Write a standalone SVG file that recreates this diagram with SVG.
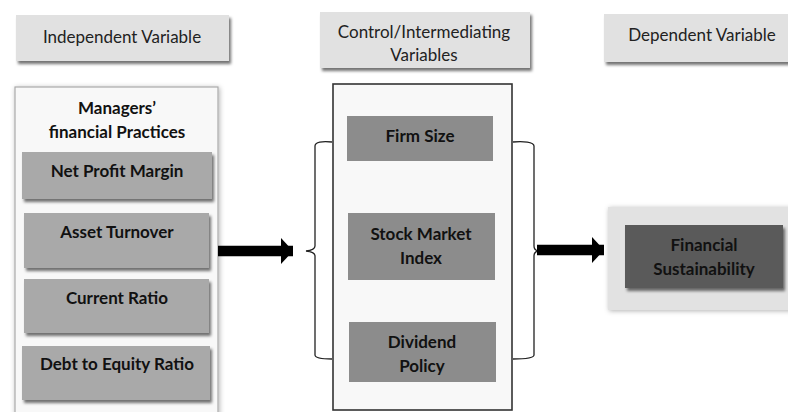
<svg xmlns="http://www.w3.org/2000/svg" width="788" height="412" viewBox="0 0 788 412">
<defs>
<filter id="sh" x="-10%" y="-20%" width="130%" height="150%">
<feDropShadow dx="2" dy="3" stdDeviation="1.6" flood-color="#000" flood-opacity="0.55"/>
</filter>
<filter id="glow" x="-10%" y="-10%" width="120%" height="120%">
<feDropShadow dx="1" dy="1" stdDeviation="2.5" flood-color="#000" flood-opacity="0.3"/>
</filter>
<marker id="ah" viewBox="0 0 12 26" refX="12" refY="13" markerWidth="12" markerHeight="26" markerUnits="userSpaceOnUse" orient="auto">
<path d="M0,0 L12,13 L0,26 Z" fill="#000"/>
</marker>
</defs>
<style>
text{font-family:Lato,"Open Sans","Liberation Sans",sans-serif;fill:#111;text-anchor:middle}
.h{font-size:17px;font-weight:400;fill:#222}
.b{font-size:17px;font-weight:700}
.hdr{fill:#e1e1e1;filter:url(#sh)}
.item{fill:#a9a9a9;filter:url(#sh)}
.mid{fill:#8c8c8c}
.conn{fill:none;stroke:#000;stroke-width:10.5}
.br{fill:none;stroke:#222;stroke-width:1.3}
</style>
<rect width="788" height="412" fill="#fff"/>

<g id="hdr-independent">
<rect class="hdr" x="16" y="15" width="213" height="46"/>
<text class="h" x="122" y="43">Independent Variable</text>
</g>
<g id="hdr-control">
<rect class="hdr" x="320" y="12" width="210" height="56"/>
<text class="h" x="424" y="38">Control/Intermediating</text>
<text class="h" x="424" y="61">Variables</text>
</g>
<g id="hdr-dependent">
<rect class="hdr" x="604" y="14" width="190" height="48"/>
<text class="h" x="702" y="41">Dependent Variable</text>
</g>

<g id="managers">
<rect x="15" y="87" width="203" height="340" fill="#f8f8f8" stroke="#aaa" stroke-width="1.2" filter="url(#glow)"/>
<text class="b" x="117" y="114">Managers’</text>
<text class="b" x="117" y="138">financial Practices</text>
</g>
<g id="net-profit-margin">
<rect class="item" x="22" y="152" width="190" height="47"/>
<text class="b" x="117" y="177">Net Profit Margin</text>
</g>
<g id="asset-turnover">
<rect class="item" x="24" y="213" width="185" height="55"/>
<text class="b" x="117" y="238">Asset Turnover</text>
</g>
<g id="current-ratio">
<rect class="item" x="24" y="279" width="185" height="54"/>
<text class="b" x="117" y="304">Current Ratio</text>
</g>
<g id="debt-equity">
<rect class="item" x="22" y="346" width="188" height="54"/>
<text class="b" x="117" y="370">Debt to Equity Ratio</text>
</g>

<g id="control-box">
<rect x="333" y="84" width="179" height="326" fill="#f8f8f8" stroke="#333" stroke-width="1.6"/>
</g>
<g id="firm-size">
<rect class="mid" x="347" y="116" width="146" height="45"/>
<text class="b" x="420" y="142">Firm Size</text>
</g>
<g id="stock-market-index">
<rect class="mid" x="348" y="213" width="147" height="67"/>
<text class="b" x="421" y="240">Stock Market</text>
<text class="b" x="421" y="264">Index</text>
</g>
<g id="dividend-policy">
<rect class="mid" x="349" y="322" width="147" height="60"/>
<text class="b" x="422" y="348">Dividend</text>
<text class="b" x="422" y="372">Policy</text>
</g>

<g id="financial-sustainability">
<rect x="608" y="207" width="190" height="103" fill="#e2e2e2" filter="url(#glow)"/>
<rect x="625" y="225" width="158" height="63" fill="#5a5a5a" filter="url(#sh)"/>
<text class="b" x="704" y="251">Financial</text>
<text class="b" x="704" y="275">Sustainability</text>
</g>

<g id="connectors">
<path class="br" d="M332,142 C322,141 315,142 315,146 L315,246 Q315,250 306,251 Q315,252 315,256 L315,355 C315,358 322,359 332,359"/>
<path class="br" d="M513,142 C523,141 534,142 534,146 L534,246 Q534,250 538,251 Q534,252 534,256 L534,355 C534,358 523,359 513,359"/>
<line class="conn" x1="218" y1="251" x2="293" y2="251" marker-end="url(#ah)"/>
<line class="conn" x1="537" y1="250" x2="604" y2="250" marker-end="url(#ah)"/>
</g>
</svg>
